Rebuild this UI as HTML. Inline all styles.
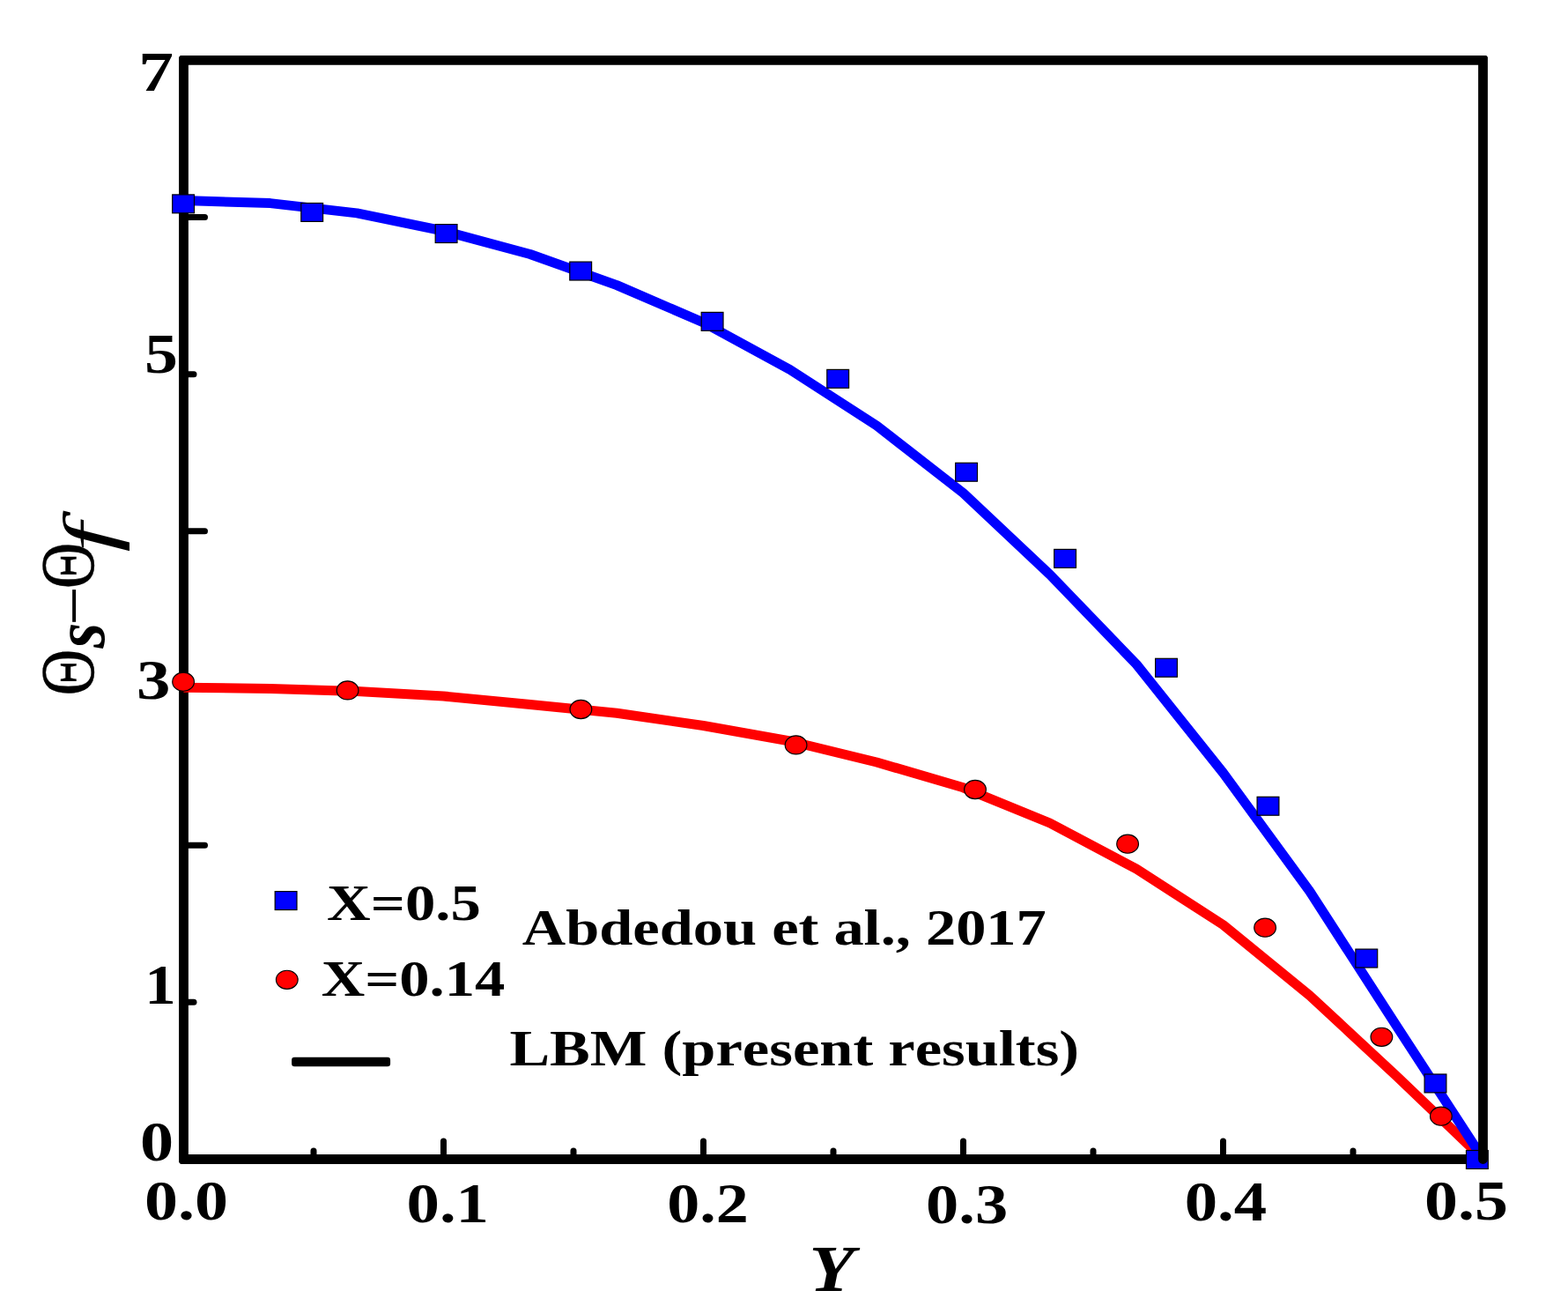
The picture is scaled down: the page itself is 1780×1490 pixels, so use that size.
<!DOCTYPE html>
<html lang="en"><head><meta charset="utf-8"><title>Θs−Θf versus Y</title>
<style>
html,body{margin:0;padding:0;background:#fff;}
body{width:1780px;height:1490px;overflow:hidden;}
svg{display:block;}
text{font-family:"Liberation Serif","DejaVu Serif",serif;fill:#000;font-kerning:none;}
</style></head><body>
<svg width="1780" height="1490" viewBox="0 0 1780 1490">
<rect x="0" y="0" width="1780" height="1490" fill="#ffffff"/>
<g stroke="#000" stroke-width="10.8" fill="none" stroke-linejoin="miter">
<polyline points="1683.5,68.4 208.5,68.4 208.5,1315.5 1683.5,1315.5"/>
</g>
<g stroke="#000" stroke-width="7.0" stroke-linecap="round" fill="none">
<line x1="208.5" y1="1137.34" x2="220.00" y2="1137.34"/>
<line x1="208.5" y1="959.19" x2="232.50" y2="959.19"/>
<line x1="208.5" y1="781.03" x2="220.00" y2="781.03"/>
<line x1="208.5" y1="602.87" x2="232.50" y2="602.87"/>
<line x1="208.5" y1="424.71" x2="220.00" y2="424.71"/>
<line x1="208.5" y1="246.56" x2="232.50" y2="246.56"/>
<line x1="356.00" y1="1315.5" x2="356.00" y2="1305.90"/>
<line x1="503.50" y1="1315.5" x2="503.50" y2="1295.00"/>
<line x1="651.00" y1="1315.5" x2="651.00" y2="1305.90"/>
<line x1="798.50" y1="1315.5" x2="798.50" y2="1295.00"/>
<line x1="946.00" y1="1315.5" x2="946.00" y2="1305.90"/>
<line x1="1093.50" y1="1315.5" x2="1093.50" y2="1295.00"/>
<line x1="1241.00" y1="1315.5" x2="1241.00" y2="1305.90"/>
<line x1="1388.50" y1="1315.5" x2="1388.50" y2="1295.00"/>
<line x1="1536.00" y1="1315.5" x2="1536.00" y2="1305.90"/>
</g>
<polyline points="208.5,780.2 306.8,781.5 405.2,784.5 503.5,790.0 601.8,799.5 700.2,809.2 798.5,823.5 896.8,841.0 995.2,865.0 1093.5,893.8 1191.8,934.0 1290.2,986.2 1388.5,1049.5 1486.8,1129.7 1585.2,1221.0 1683.5,1315.0" fill="none" stroke="#ff0000" stroke-width="11.0" stroke-linejoin="round"/>
<polyline points="208.5,227.4 306.8,230.6 405.2,241.9 503.5,262.0 601.8,288.5 700.2,323.6 798.5,366.0 896.8,419.5 995.2,483.0 1093.5,559.5 1191.8,652.0 1290.2,754.0 1388.5,877.0 1486.8,1011.5 1585.2,1164.0 1683.5,1315.0" fill="none" stroke="#0000ff" stroke-width="11.0" stroke-linejoin="round"/>
<g fill="#0000ff" stroke="#000" stroke-width="1.2">
<rect x="195.7" y="220.9" width="24.8" height="20.9"/>
<rect x="341.8" y="230.5" width="24.8" height="20.9"/>
<rect x="494.2" y="254.6" width="24.8" height="20.9"/>
<rect x="646.8" y="297.1" width="24.8" height="20.9"/>
<rect x="796.2" y="354.4" width="24.8" height="20.9"/>
<rect x="938.8" y="419.4" width="24.8" height="20.9"/>
<rect x="1084.7" y="525.3" width="24.8" height="20.9"/>
<rect x="1196.7" y="623.4" width="24.8" height="20.9"/>
<rect x="1311.6" y="747.3" width="24.8" height="20.9"/>
<rect x="1427.1" y="904.3" width="24.8" height="20.9"/>
<rect x="1538.9" y="1077.1" width="24.8" height="20.9"/>
<rect x="1617.1" y="1219.0" width="24.8" height="20.9"/>
<rect x="1664.5" y="1305.5" width="24.8" height="20.9"/>
<rect x="312.2" y="1011.6" width="24.8" height="20.9"/>
</g>
<g fill="#ff0000" stroke="#000" stroke-width="1.2">
<ellipse cx="208.1" cy="773.7" rx="12.35" ry="10.55"/>
<ellipse cx="394.6" cy="783.4" rx="12.35" ry="10.55"/>
<ellipse cx="659.4" cy="805.0" rx="12.35" ry="10.55"/>
<ellipse cx="903.6" cy="845.4" rx="12.35" ry="10.55"/>
<ellipse cx="1107.0" cy="896.0" rx="12.35" ry="10.55"/>
<ellipse cx="1280.1" cy="957.7" rx="12.35" ry="10.55"/>
<ellipse cx="1436.1" cy="1052.7" rx="12.35" ry="10.55"/>
<ellipse cx="1568.4" cy="1176.8" rx="12.35" ry="10.55"/>
<ellipse cx="1635.9" cy="1266.7" rx="12.35" ry="10.55"/>
<ellipse cx="325.8" cy="1111.8" rx="12.35" ry="10.55"/>
</g>
<line x1="1683.5" y1="63.0" x2="1683.5" y2="1315.5" stroke="#000" stroke-width="10.8" stroke-linecap="butt"/>
<circle cx="1683.5" cy="1315.5" r="5.4" fill="#000"/>
<path d="M1686.7,62.5H1689.4V65.2Z M202.6,62.5H205.3L202.6,65.2Z M202.6,1321.4H205.5L202.6,1318.5Z" fill="#fff"/>
<rect x="331.1" y="1199.7" width="112" height="10.6" rx="3.2" ry="3.2" fill="#000"/>
<text transform="translate(163.91,1384.10) scale(1.1948,1)" font-size="63.6" style="font-weight:bold">0.0</text>
<text transform="translate(461.45,1387.00) scale(1.1777,1)" font-size="63.6" style="font-weight:bold">0.1</text>
<text transform="translate(757.18,1387.00) scale(1.1648,1)" font-size="63.6" style="font-weight:bold">0.2</text>
<text transform="translate(1051.06,1387.50) scale(1.1708,1)" font-size="63.6" style="font-weight:bold">0.3</text>
<text transform="translate(1344.65,1384.60) scale(1.1766,1)" font-size="63.6" style="font-weight:bold">0.4</text>
<text transform="translate(1617.01,1383.60) scale(1.1947,1)" font-size="63.6" style="font-weight:bold">0.5</text>
<text transform="translate(157.25,102.80) scale(1.2512,1)" font-size="63.6" style="font-weight:bold">7</text>
<text transform="translate(163.96,422.60) scale(1.1922,1)" font-size="63.6" style="font-weight:bold">5</text>
<text transform="translate(155.01,793.00) scale(1.2080,1)" font-size="63.6" style="font-weight:bold">3</text>
<text transform="translate(164.22,1138.90) scale(1.1147,1)" font-size="63.6" style="font-weight:bold">1</text>
<text transform="translate(158.90,1317.10) scale(1.1983,1)" font-size="63.6" style="font-weight:bold">0</text>
<text transform="translate(371.02,1043.50) scale(1.1863,1)" font-size="58" style="font-weight:bold">X=0.5</text>
<text transform="translate(364.73,1129.90) scale(1.1820,1)" font-size="58" style="font-weight:bold">X=0.14</text>
<text transform="translate(592.83,1072.00) scale(1.1799,1)" font-size="58" style="font-weight:bold">Abdedou et al., 2017</text>
<text transform="translate(578.43,1209.00) scale(1.1811,1)" font-size="58" style="font-weight:bold">LBM (present results)</text>
<text transform="translate(918.59,1464.70) scale(1.1425,1)" font-size="73.6" style="font-weight:bold;font-style:italic">Y</text>
<text transform="translate(105.56,789.41) rotate(-90) scale(0.8487,1)" font-size="86.33" style="" stroke="#000" stroke-width="0.4">Θ</text>
<text transform="translate(118.09,735.40) rotate(-90) scale(0.8924,1)" font-size="83.17" style="font-weight:bold;font-style:italic">s</text>
<text transform="translate(110.67,709.83) rotate(-90) scale(0.9820,1)" font-size="80.31" style="">−</text>
<text transform="translate(105.56,668.30) rotate(-90) scale(0.8469,1)" font-size="86.33" style="" stroke="#000" stroke-width="0.4">Θ</text>
<text transform="translate(129.36,626.44) rotate(-90) scale(1.4409,1)" font-size="82.88" style="font-style:italic">f</text>
</svg>
</body></html>
